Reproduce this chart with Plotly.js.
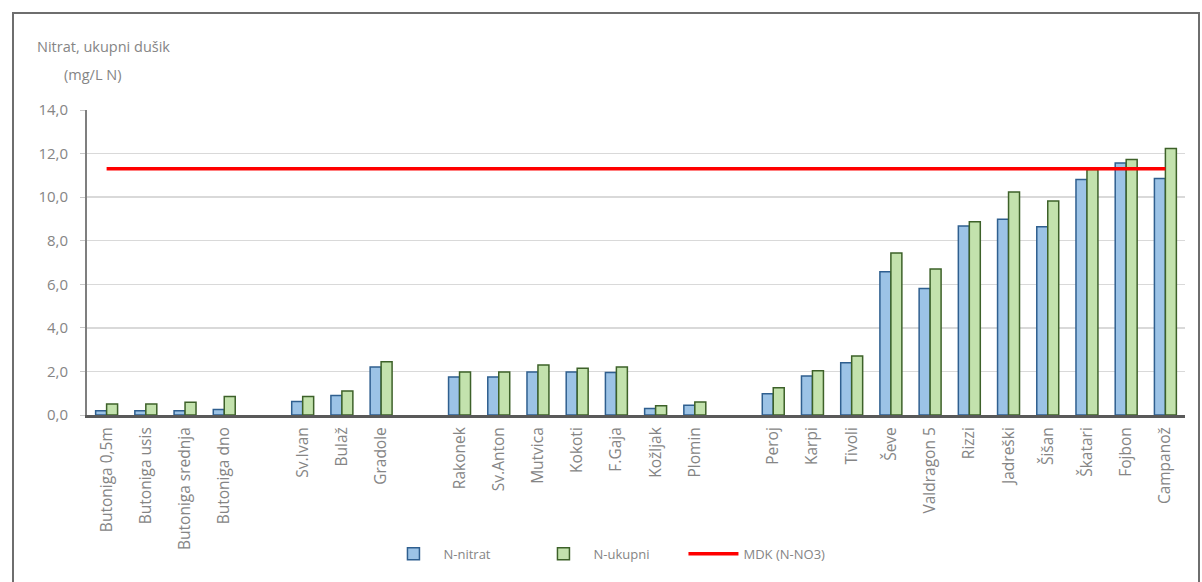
<!DOCTYPE html>
<html>
<head>
<meta charset="utf-8">
<script src="https://cdn.plot.ly/plotly-3.0.1.min.js"></script>
<style>
  html, body { margin: 0; padding: 0; background: #ffffff; }
  #wrap { position: relative; width: 1202px; height: 582px; overflow: hidden; }
  #chart { position: absolute; left: 0; top: 0; width: 1202px; height: 582px; }
  #frame { position: absolute; left: 12px; top: 12px; width: 1184px; height: 600px;
           border: 2px solid #6e6e6e; pointer-events: none; }
</style>
</head>
<body>
<div id="wrap">
  <div id="chart"></div>
  <div id="frame"></div>
</div>
<script>
// Categories (blank entries are the empty spacer positions between groups)
const categories = ['Butoniga 0,5m','Butoniga usis','Butoniga srednja','Butoniga dno',' ',
  'Sv.Ivan','Bulaž','Gradole','  ',
  'Rakonek','Sv.Anton','Mutvica','Kokoti','F.Gaja','Kožljak','Plomin','   ',
  'Peroj','Karpi','Tivoli','Ševe','Valdragon 5','Rizzi','Jadreški','Šišan','Škatari','Fojbon','Campanož'];

const nNitrat  = [0.20,0.20,0.20,0.25,null, 0.62,0.90,2.20,null,
  1.75,1.75,1.97,1.97,1.95,0.30,0.45,null,
  0.97,1.79,2.40,6.57,5.81,8.67,8.98,8.64,10.81,11.57,10.86];
const nUkupni  = [0.50,0.50,0.58,0.85,null, 0.85,1.10,2.45,null,
  1.97,1.97,2.30,2.15,2.20,0.42,0.60,null,
  1.25,2.03,2.71,7.44,6.70,8.87,10.24,9.82,11.27,11.73,12.23];
const mdkValue = 11.3;

const seriesNames = ['N-nitrat', 'N-ukupni', 'MDK (N-NO3)'];
const yTicks = [0, 2, 4, 6, 8, 10, 12, 14];
const titleLines = ['Nitrat, ukupni dušik', '(mg/L N)'];

const textColor = '#858585';
const fontFamily = '"Open Sans", "DejaVu Sans", sans-serif';

const traces = [
  {
    type: 'bar', name: seriesNames[0], x: categories, y: nNitrat,
    marker: { color: '#9cc3e6', line: { color: '#2f5f8f', width: 1.5 } }
  },
  {
    type: 'bar', name: seriesNames[1], x: categories, y: nUkupni,
    marker: { color: '#c3e2ad', line: { color: '#3d6129', width: 1.5 } }
  },
  {
    type: 'scatter', mode: 'lines', name: seriesNames[2],
    x: [categories[0], categories[categories.length - 1]],
    y: [mdkValue, mdkValue],
    line: { color: '#ff0000', width: 3.5 }
  }
];

const layout = {
  width: 1202, height: 582,
  margin: { l: 87, r: 17, t: 110, b: 167 },
  paper_bgcolor: '#ffffff', plot_bgcolor: '#ffffff',
  font: { family: fontFamily, size: 14, color: textColor },
  separators: ', ',
  barmode: 'group', bargap: 0.44, bargroupgap: 0,
  showlegend: true,
  legend: {
    orientation: 'h', x: 0.27, xanchor: 'left', y: -0.455, yanchor: 'middle',
    font: { family: fontFamily, size: 13, color: textColor },
    traceorder: 'normal', itemwidth: 50, entrywidth: 85, entrywidthmode: 'pixels'
  },
  xaxis: {
    type: 'category', categoryorder: 'array', categoryarray: categories,
    tickangle: -90, showline: true, linecolor: '#595959', linewidth: 3,
    ticks: '', showgrid: false, zeroline: false, ticklabelstandoff: 3,
    tickfont: { family: fontFamily, size: 15.5, color: textColor }
  },
  yaxis: {
    range: [0, 14], tickvals: yTicks, tickformat: '.1f',
    showline: true, linecolor: '#7f7f7f', linewidth: 2,
    ticks: 'outside', ticklen: 5, tickcolor: '#c8c8c8', ticklabelstandoff: 9,
    gridcolor: '#d9d9d9', gridwidth: 1.5, zeroline: false,
    tickfont: { family: fontFamily, size: 15, color: textColor }
  },
  annotations: [
    {
      text: titleLines[0], xref: 'paper', yref: 'paper', x: 0.015, y: 1.207,
      xanchor: 'center', yanchor: 'middle', showarrow: false,
      font: { family: fontFamily, size: 14.5, color: textColor }
    },
    {
      text: titleLines[1], xref: 'paper', yref: 'paper', x: 0.005, y: 1.118,
      xanchor: 'center', yanchor: 'middle', showarrow: false,
      font: { family: fontFamily, size: 14.5, color: textColor }
    }
  ]
};

Plotly.newPlot('chart', traces, layout, { displayModeBar: false, staticPlot: true });
</script>
</body>
</html>
